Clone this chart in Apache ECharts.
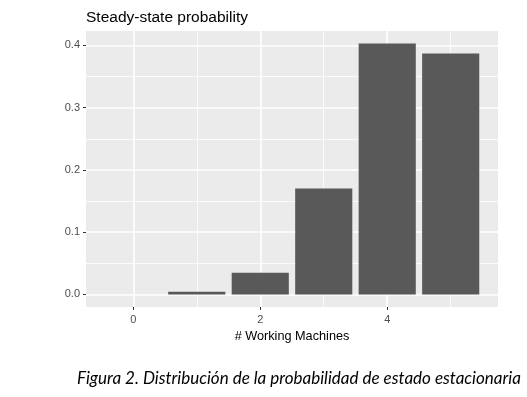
<!DOCTYPE html>
<html>
<head>
<meta charset="utf-8">
<script src="https://cdn.jsdelivr.net/npm/echarts@6/dist/echarts.min.js"></script>
<style>
  html, body { margin: 0; padding: 0; background: #fff; }
  #chart { width: 527px; height: 397px; }
</style>
</head>
<body>
<div id="chart"></div>
<script>
// datos
const machines = [0, 1, 2, 3, 4, 5]
const probability = [0.0001, 0.0045, 0.035, 0.170, 0.403, 0.387]
const xTicks = [0, 2, 4]
const yTicks = [0, 0.1, 0.2, 0.3, 0.4]
const xMinorGrid = [1, 3, 5]
const yMinorGrid = [0.05, 0.15, 0.25, 0.35]

const grid = { left: 86, right: 29, top: 31, bottom: 90 }
const xMin = -0.745, xMax = 5.745
const yMin = -0.02015, yMax = 0.42315
// ancho de barra = 0.9 unidades del eje x
const barPx = 0.9 * (527 - grid.left - grid.right) / (xMax - xMin)

function gridLines(list, key, width) {
  return list.map(v => ({ [key]: v, lineStyle: { color: '#fff', width: width, type: 'solid' } }))
}

const chart = echarts.init(document.getElementById('chart'))

const option = {
  animation: false,
  backgroundColor: '#fff',
  title: [
    {
      text: 'Steady-state probability',
      left: 81,
      top: 5,
      textStyle: { fontFamily: 'Liberation Sans', fontSize: 15.5, fontWeight: 'normal', color: '#000' }
    },
    {
      text: 'Figura 2. Distribución de la probabilidad de estado estacionaria',
      left: 72,
      top: 365,
      textStyle: { fontFamily: 'Lato', fontStyle: 'italic', fontSize: 17, fontWeight: 'normal', color: '#000' }
    }
  ],
  grid: {
    left: grid.left,
    right: grid.right,
    top: grid.top,
    bottom: grid.bottom,
    show: true,
    backgroundColor: '#EBEBEB',
    borderWidth: 0
  },
  xAxis: {
    type: 'value',
    min: xMin,
    max: xMax,
    name: '# Working Machines',
    nameLocation: 'middle',
    nameGap: 22,
    nameTextStyle: { fontFamily: 'Liberation Sans', fontSize: 12.7, color: '#000' },
    axisLine: { show: false, onZero: false },
    axisTick: { show: true, customValues: xTicks, length: 3, lineStyle: { color: '#333', width: 1 } },
    axisLabel: { customValues: xTicks, color: '#4D4D4D', fontFamily: 'Liberation Sans', fontSize: 11, margin: 7 },
    splitLine: { show: false }
  },
  yAxis: {
    type: 'value',
    min: yMin,
    max: yMax,
    axisLine: { show: false, onZero: false },
    axisTick: { show: true, customValues: yTicks, length: 3, lineStyle: { color: '#333', width: 1 } },
    axisLabel: {
      customValues: yTicks,
      color: '#4D4D4D',
      fontFamily: 'Liberation Sans',
      fontSize: 11,
      margin: 6,
      formatter: v => v.toFixed(1)
    },
    splitLine: { show: false }
  },
  series: [
    {
      // lineas de la cuadricula al estilo ggplot
      type: 'line',
      data: [],
      z: 1,
      silent: true,
      markLine: {
        z: 1,
        silent: true,
        symbol: 'none',
        label: { show: false },
        animation: false,
        data: [
          ...gridLines(xMinorGrid, 'xAxis', 0.8),
          ...gridLines(yMinorGrid, 'yAxis', 0.8),
          ...gridLines(xTicks, 'xAxis', 1.6),
          ...gridLines(yTicks, 'yAxis', 1.6)
        ]
      }
    },
    {
      type: 'bar',
      z: 3,
      barWidth: barPx,
      itemStyle: { color: '#595959' },
      data: machines.map((m, i) => [m, probability[i]])
    }
  ]
}

option && chart.setOption(option)
</script>
</body>
</html>
